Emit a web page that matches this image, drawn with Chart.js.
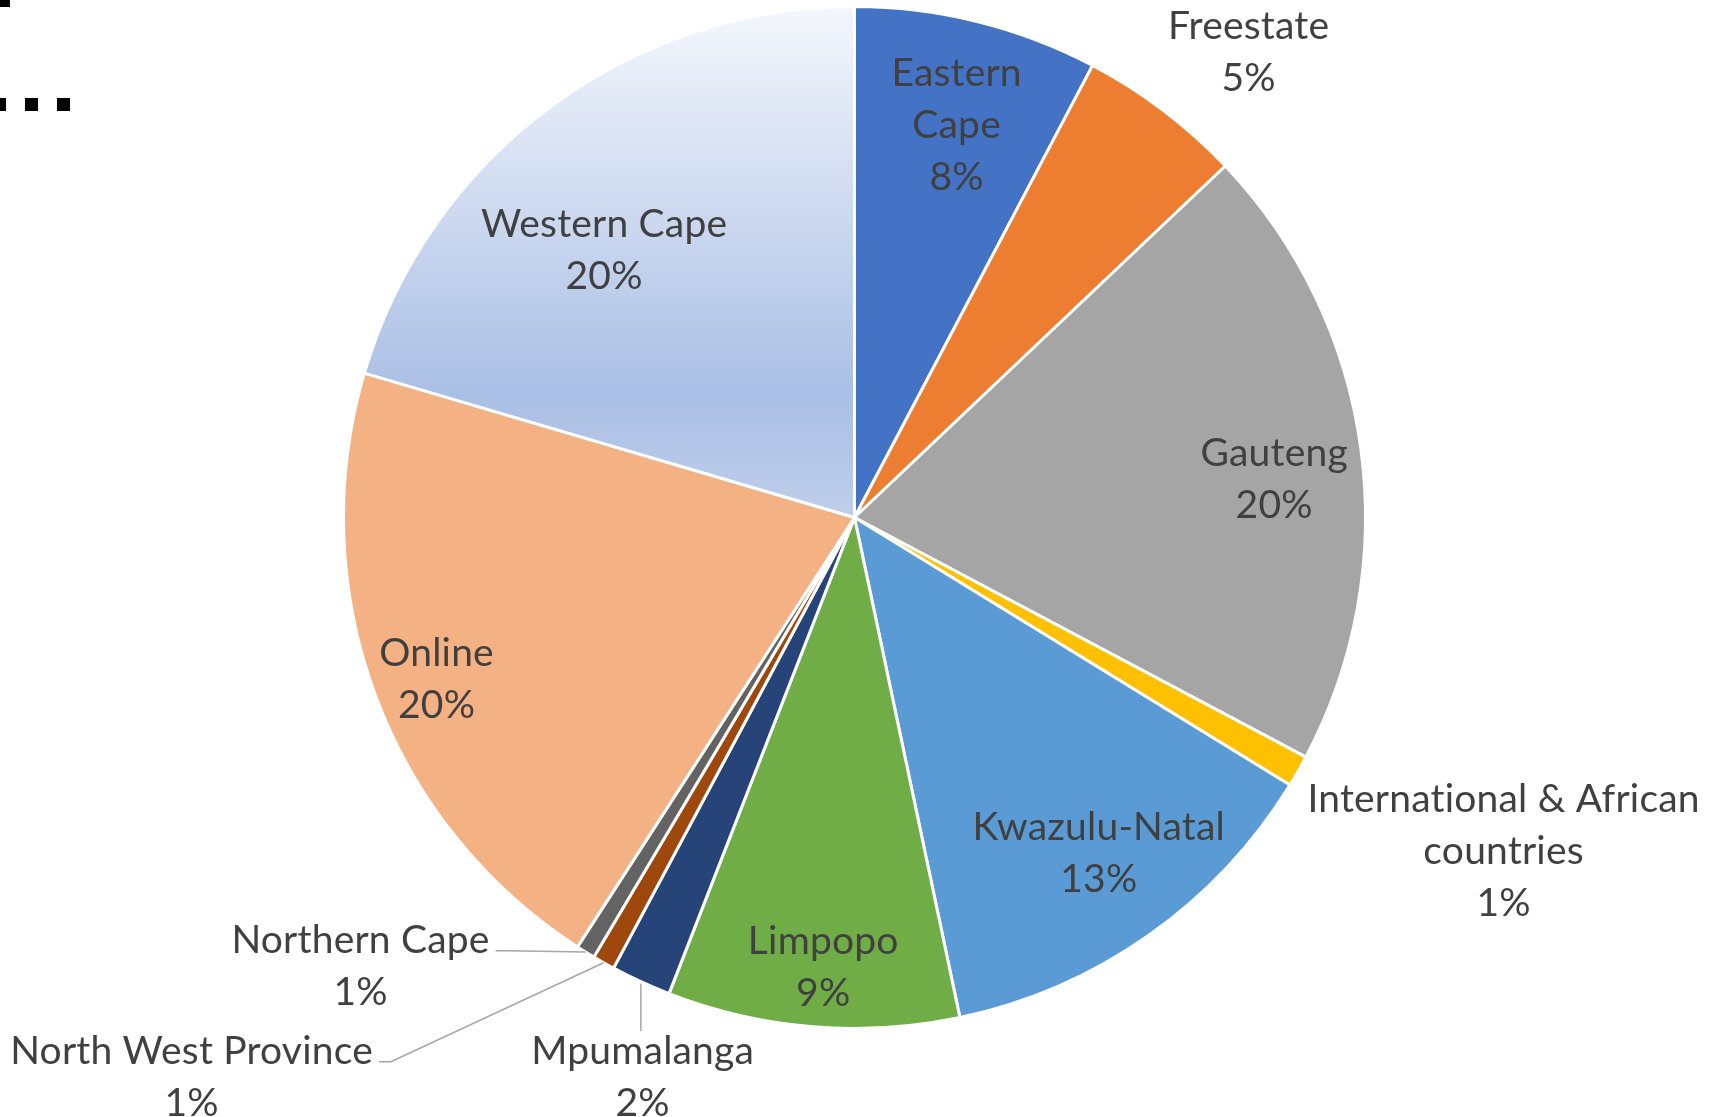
<!DOCTYPE html>
<html>
<head>
<meta charset="utf-8">
<script src="https://cdn.jsdelivr.net/npm/chart.js@4.4.1/dist/chart.umd.min.js"></script>
<style>
  html, body { margin: 0; padding: 0; background: #ffffff; }
  #wrap { width: 1717px; height: 1117px; position: relative; }
</style>
</head>
<body>
<div id="wrap"><canvas id="c" width="1717" height="1117"></canvas></div>
<script>
// ---- Data ----
const categories = [
  'Eastern Cape', 'Freestate', 'Gauteng', 'International & African countries',
  'Kwazulu-Natal', 'Limpopo', 'Mpumalanga', 'North West Province',
  'Northern Cape', 'Online', 'Western Cape'
];
const shares = [7.7, 5.2, 19.8, 1.0, 12.9, 9.2, 1.9, 0.7, 0.6, 20.4, 20.4];

// ---- Styling ----
const sliceColors = [
  '#4472C4', '#ED7D31', '#A5A5A5', '#FFC000', '#5B9BD5', '#70AD47',
  '#264478', '#9E480E', '#636363', '#F4B183', null /* gradient */
];
const wrapLines = {
  'Eastern Cape': ['Eastern', 'Cape'],
  'International & African countries': ['International & African', 'countries']
};
// label placement relative to each arc: [radius factor, angle offset from arc middle (deg), leader type]
const labelPlacement = [
  [0.796, 0.65, null], [1.196, 3.0, null], [0.825, 2.3, null], [1.427, -2.65, null],
  [0.81, -1.0, null], [0.879, -0.7, null], [1.167, -3.9, 'top'], [1.696, 20.5, 'right'],
  [1.304, 16.1, 'right'], [0.876, -0.6, null], [0.72, -6.1, null]
];
const FONT = '39px Lato, "Open Sans", sans-serif';
const LINE_H = 52;
const TEXT_SHIFT = 2;
const TEXT_COLOR = '#404040';

function westernGradient(ctx) {
  const chart = ctx.chart;
  const a = chart.chartArea;
  if (!a) return '#B4C7E7';
  const cy = (a.top + a.bottom) / 2;
  const g = chart.ctx.createLinearGradient(0, a.top, 0, cy);
  g.addColorStop(0, '#F4F7FC');
  g.addColorStop(0.76, '#AABFE5');
  g.addColorStop(1, '#BFCEEB');
  return g;
}

const labelPlugin = {
  id: 'excelLabels',
  afterDatasetsDraw(chart) {
    const ctx = chart.ctx;
    const meta = chart.getDatasetMeta(0);
    const data = chart.data.datasets[0].data;
    const total = data.reduce((s, v) => s + v, 0);
    ctx.save();
    ctx.font = FONT;
    if ('letterSpacing' in ctx) ctx.letterSpacing = '0.2px';
    ctx.fillStyle = TEXT_COLOR;
    ctx.textAlign = 'center';
    ctx.textBaseline = 'middle';
    meta.data.forEach((arc, i) => {
      const p = arc.getProps(['x', 'y', 'startAngle', 'endAngle', 'outerRadius'], true);
      const mid = (p.startAngle + p.endAngle) / 2;
      const [f, off, leader] = labelPlacement[i];
      const ang = mid + off * Math.PI / 180;
      const lx = p.x + Math.cos(ang) * p.outerRadius * f;
      const ly = p.y + Math.sin(ang) * p.outerRadius * f;
      const name = categories[i];
      const lines = (wrapLines[name] || [name]).slice();
      lines.push(Math.round(data[i] / total * 100) + '%');
      const top = ly - (lines.length * LINE_H) / 2;
      lines.forEach((t, k) => ctx.fillText(t, lx, top + LINE_H * (k + 0.5) + TEXT_SHIFT));
      if (leader) {
        const ex = p.x + Math.cos(mid) * p.outerRadius;
        const ey = p.y + Math.sin(mid) * p.outerRadius;
        const w = Math.max(...lines.map(t => ctx.measureText(t).width));
        ctx.strokeStyle = '#A6A6A6';
        ctx.lineWidth = 1.5;
        ctx.beginPath();
        if (leader === 'right') {
          const sx = lx + w / 2 + 6;
          const sy = top + LINE_H * 0.5 + 12;
          ctx.moveTo(sx, sy);
          ctx.lineTo(sx + 12, sy);
          ctx.lineTo(ex, ey);
        } else {
          ctx.moveTo(ex, ey + 2);
          ctx.lineTo(ex, top + 8);
        }
        ctx.stroke();
      }
    });
    ctx.restore();
  }
};

// stray cropped marks at the top-left of the source image
const cornerMarks = {
  id: 'cornerMarks',
  afterDraw(chart) {
    const ctx = chart.ctx;
    ctx.save();
    ctx.fillStyle = '#000000';
    ctx.fillRect(0, 0, 10, 7);
    ctx.strokeStyle = '#000000';
    ctx.lineWidth = 13;
    ctx.setLineDash([13, 19]);
    ctx.lineDashOffset = 7;
    ctx.beginPath();
    ctx.moveTo(0, 104.5);
    ctx.lineTo(72, 104.5);
    ctx.stroke();
    ctx.restore();
  }
};

new Chart(document.getElementById('c'), {
  type: 'pie',
  data: {
    labels: categories,
    datasets: [{
      data: shares,
      backgroundColor: (ctx) => sliceColors[ctx.dataIndex] || westernGradient(ctx),
      borderColor: '#FFFFFF',
      borderWidth: 3,
      hoverOffset: 0
    }]
  },
  options: {
    responsive: false,
    devicePixelRatio: 1,
    animation: false,
    layout: { padding: { left: 342, right: 350, top: 5, bottom: 87 } },
    plugins: { legend: { display: false }, tooltip: { enabled: false } }
  },
  plugins: [labelPlugin, cornerMarks]
});
</script>
</body>
</html>
